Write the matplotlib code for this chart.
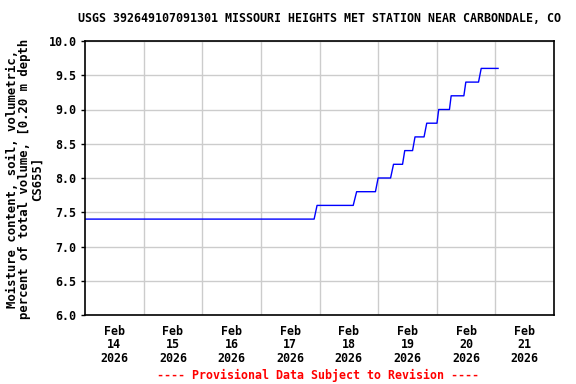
import numpy as np
import matplotlib
matplotlib.use('Agg')
import matplotlib.pyplot as plt
import matplotlib.dates as mdates

# hours after 2026-02-14 00:00 where the line bends, and the value there
hours = [0, 93.8, 95.0, 109.8, 111.2, 118.9, 120.0, 125.1, 126.3, 130.0, 130.9,
         134.1, 135.1, 138.8, 139.9, 144.1, 144.8, 149.2, 149.9, 155.1, 155.9,
         161.1, 162.2, 169.1]
moisture = [7.4, 7.4, 7.6, 7.6, 7.8, 7.8, 8.0, 8.0, 8.2, 8.2, 8.4,
            8.4, 8.6, 8.6, 8.8, 8.8, 9.0, 9.0, 9.2, 9.2, 9.4,
            9.4, 9.6, 9.6]
day_labels = ['Feb\n14\n2026', 'Feb\n15\n2026', 'Feb\n16\n2026', 'Feb\n17\n2026',
              'Feb\n18\n2026', 'Feb\n19\n2026', 'Feb\n20\n2026', 'Feb\n21\n2026']
y_ticks = [6.0, 6.5, 7.0, 7.5, 8.0, 8.5, 9.0, 9.5, 10.0]

title = 'USGS 392649107091301 MISSOURI HEIGHTS MET STATION NEAR CARBONDALE, CO'
ylab = 'Moisture content, soil, volumetric,\npercent of total volume, [0.20 m depth\nCS655]'

start = np.datetime64('2026-02-14T00:00')
t = [start + np.timedelta64(int(round(h * 60)), 'm') for h in hours]

plt.rcParams['font.family'] = 'DejaVu Sans Mono'
plt.rcParams['font.weight'] = 'bold'
fs = 8.4

fig = plt.figure(figsize=(5.76, 3.84), dpi=100)
ax = fig.add_axes([85 / 576, 69 / 384, 469 / 576, 274 / 384])

ax.plot(t, moisture, color='#0000ff', lw=1.0)

ax.set_xlim(start, start + np.timedelta64(8, 'D'))
ax.set_ylim(6.0, 10.0)

mid = [start + np.timedelta64(d, 'D') for d in range(1, 8)]
noon = [start + np.timedelta64(12 + 24 * d, 'h') for d in range(8)]
ax.set_xticks(mdates.date2num(noon))
ax.set_xticklabels(day_labels, fontsize=fs, fontweight='bold', linespacing=1.05)
ax.set_xticks(mdates.date2num(mid), minor=True)
ax.tick_params(axis='x', which='both', length=0, pad=7)
ax.grid(axis='x', which='minor', color='#cccccc', lw=1)

ax.set_yticks(y_ticks)
ax.set_yticklabels(['%.1f' % v for v in y_ticks], fontsize=fs, fontweight='bold')
ax.tick_params(axis='y', length=3, width=1, pad=3)
ax.grid(axis='y', which='major', color='#cccccc', lw=1)
ax.set_axisbelow(True)

for s in ax.spines.values():
    s.set_linewidth(1.2)

# y label placed by hand, three centred lines
fig.text(25 / 576, 1 - 179 / 384, ylab, rotation=90, ha='center', va='center',
         multialignment='center', fontsize=8.8, fontweight='bold', linespacing=0.98)

fig.text(319 / 576, 1 - 18 / 384, title, ha='center', va='center', fontsize=fs, fontweight='bold')
fig.text(318 / 576, 1 - 375 / 384, '---- Provisional Data Subject to Revision ----',
         ha='center', va='center', fontsize=fs, fontweight='bold', color='red')

fig.savefig('out.png', dpi=100)
